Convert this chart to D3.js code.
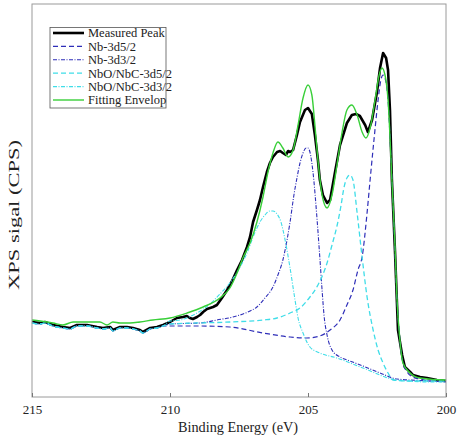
<!DOCTYPE html>
<html>
<head>
<meta charset="utf-8">
<script src="https://cdn.jsdelivr.net/npm/d3@7"></script>
<style>
  html, body { margin: 0; padding: 0; background: #fff; }
  svg text { font-family: "Liberation Serif", "Times New Roman", serif; }
</style>
</head>
<body>
<svg id="chart" width="459" height="438"></svg>
<script>
// ---------- DATA (binding energy in eV, intensity in arbitrary units) ----------
const xTicks = [215, 210, 205, 200];
const seriesNames = ["Measured Peak", "Nb-3d5/2", "Nb-3d3/2", "NbO/NbC-3d5/2", "NbO/NbC-3d3/2", "Fitting Envelop"];

const measuredPeak = [
  [215.00,75],[214.71,74],[214.53,75],[214.24,72],[213.88,70],[213.62,69],[213.37,72],[213.01,72],
  [212.64,70],[212.43,69],[212.17,70],[212.07,67],[211.81,70],[211.56,70],[211.34,69],[211.09,67],
  [210.98,65],[210.72,69],[210.47,70],[210.25,72],[210.00,75],[209.75,79],[209.53,80],[209.39,81],
  [209.28,79],[209.17,78],[209.02,80],[208.91,82],[208.80,85],[208.66,88],[208.55,89],[208.44,90],
  [208.30,92],[208.12,99],[207.93,107],[207.75,116],[207.57,127],[207.39,137],[207.21,150],[207.10,160],
  [206.99,175],[206.85,187],[206.74,197],[206.63,210],[206.49,225],[206.38,234],[206.27,240],[206.12,245],
  [206.01,246],[205.91,244],[205.80,242],[205.72,246],[205.65,245],[205.54,247],[205.40,262],[205.29,275],
  [205.11,287],[205.00,289],[204.86,283],[204.75,262],[204.64,237],[204.57,217],[204.46,202],[204.31,194],
  [204.20,197],[204.02,225],[203.84,252],[203.59,274],[203.41,282],[203.26,283],[203.12,281],[202.93,272],
  [202.83,265],[202.68,277],[202.50,305],[202.39,329],[202.28,344],[202.17,339],[202.10,327],[202.03,287],
  [201.96,217],[201.85,147],[201.74,67],[201.59,42],[201.49,30],[201.30,25],[201.20,22],[200.94,20],
  [200.69,19],[200.33,17],[200.00,16]
];

const fittingEnvelop = [
  [215.00,77],[214.71,76],[214.24,74],[213.88,72],[213.51,75],[213.01,75],[212.54,75],[212.28,72],
  [212.07,75],[211.81,74],[211.45,74],[211.09,75],[210.62,77],[210.00,79],[209.38,84],[208.80,90],
  [208.19,99],[207.83,109],[207.57,124],[207.36,139],[207.10,154],[206.85,175],[206.63,200],[206.45,225],
  [206.27,244],[206.09,255],[205.91,249],[205.72,240],[205.54,247],[205.36,272],[205.18,299],[205.00,312],
  [204.86,302],[204.75,272],[204.64,237],[204.49,202],[204.31,189],[204.13,202],[203.95,232],[203.77,264],
  [203.59,287],[203.41,292],[203.22,282],[203.04,265],[202.90,259],[202.75,269],[202.57,297],[202.43,321],
  [202.32,329],[202.21,322],[202.10,297],[201.96,217],[201.85,152],[201.78,100],[201.67,57],[201.56,34],
  [201.30,24],[200.94,19],[200.04,17],[200.00,17]
];

// noisy background shared by the fitted components at the high-energy end
const componentBaseline = [
  [215.00,74],[214.71,73],[214.53,74],[214.24,71],[213.88,69],[213.62,68],[213.37,71],[213.01,71],
  [212.64,69],[212.43,68],[212.17,69],[212.07,66],[211.81,69],[211.56,69],[211.34,68],[211.09,66],
  [210.98,64],[210.72,68],[210.47,69],[210.25,71]
];

const nb3d52 = [
  [210.00,71],[208.91,71],[207.83,70],[206.63,64],[205.65,60],[205.04,59],[204.57,61],[204.20,67],
  [203.84,77],[203.59,92],[203.37,107],[203.19,127],[203.04,140],[202.86,184],[202.75,217],[202.61,257],
  [202.46,297],[202.36,317],[202.28,322],[202.21,319],[202.10,297],[201.99,237],[201.88,167],[201.78,100],
  [201.67,57],[201.56,34],[201.41,25],[201.20,20],[200.94,18],[200.58,16],[200.00,16]
];

const nb3d32 = [
  [210.00,73],[208.91,74],[208.30,77],[207.72,80],[207.10,86],[206.85,90],[206.56,99],[206.27,110],
  [206.09,122],[205.91,137],[205.76,157],[205.65,175],[205.51,202],[205.40,219],[205.29,234],[205.18,244],
  [205.07,249],[205.00,249],[204.93,245],[204.82,225],[204.67,177],[204.57,139],[204.49,107],[204.42,82],
  [204.31,62],[204.13,47],[203.84,40],[203.48,36],[203.01,31],[202.39,24],[201.78,18],[200.58,16],[200.00,15]
];

const nbo3d52 = [
  [210.00,73],[207.83,75],[206.63,77],[206.12,79],[205.65,84],[205.29,89],[204.93,100],[204.64,112],
  [204.31,134],[204.13,152],[203.95,171],[203.80,192],[203.70,209],[203.59,219],[203.48,222],[203.37,217],
  [203.22,184],[203.04,140],[202.86,100],[202.64,67],[202.46,47],[202.28,34],[202.10,24],[201.92,17],
  [201.30,16],[200.00,16]
];

const nbo3d32 = [
  [210.00,76],[209.64,77],[209.02,84],[208.55,93],[208.19,103],[207.83,114],[207.46,130],[207.21,144],
  [206.99,160],[206.74,175],[206.56,182],[206.38,186],[206.27,186],[206.12,183],[205.98,175],[205.83,157],
  [205.65,129],[205.47,97],[205.36,79],[205.18,64],[204.93,50],[204.57,44],[203.95,39],[203.01,29],
  [201.78,17],[200.58,15],[200.00,15]
];

// ---------- DRAWING ----------
const svg = d3.select("#chart");
const mLeft = 32, mRight = 446, mTop = 4, mBottom = 397;

const x = d3.scaleLinear().domain([215, 200]).range([mLeft, mRight]);
const y = d3.scaleLinear().domain([0, 393]).range([mBottom, mTop]);

const navy = "#2e2eb8", cyan = "#3fdde8", green = "#38cf38";

const series = [
  { name: seriesNames[0], data: measuredPeak, color: "#000", width: 2.6, dash: null, curve: d3.curveLinear },
  { name: seriesNames[1], data: componentBaseline.concat(nb3d52), color: navy, width: 1.2, dash: "5,3", curve: d3.curveMonotoneX },
  { name: seriesNames[2], data: componentBaseline.concat(nb3d32), color: navy, width: 1.1, dash: "4,1.5,1,1.5", curve: d3.curveMonotoneX },
  { name: seriesNames[3], data: componentBaseline.concat(nbo3d52), color: cyan, width: 1.3, dash: "5,3", curve: d3.curveMonotoneX },
  { name: seriesNames[4], data: componentBaseline.concat(nbo3d32), color: cyan, width: 1.1, dash: "4,1.5,1,1.5", curve: d3.curveMonotoneX },
  { name: seriesNames[5], data: fittingEnvelop, color: green, width: 1.4, dash: null, curve: d3.curveMonotoneX }
];

const plot = svg.append("g");
series.forEach(s => {
  const line = d3.line().x(d => x(d[0])).y(d => y(d[1])).curve(s.curve);
  plot.append("path")
    .datum(s.data)
    .attr("d", line)
    .attr("fill", "none")
    .attr("stroke", s.color)
    .attr("stroke-width", s.width)
    .attr("stroke-linejoin", "round")
    .attr("stroke-dasharray", s.dash);
});

// frame
svg.append("rect")
  .attr("x", mLeft).attr("y", mTop)
  .attr("width", mRight - mLeft).attr("height", mBottom - mTop)
  .attr("fill", "none").attr("stroke", "#9a9a9a").attr("stroke-width", 1);

// x axis
const xAxis = d3.axisBottom(x).tickValues(xTicks).tickFormat(d3.format("d"))
  .tickSizeInner(-4).tickSizeOuter(0).tickPadding(8);
const gx = svg.append("g").attr("transform", `translate(0,${mBottom})`).call(xAxis);
gx.select(".domain").remove();
gx.selectAll(".tick line").attr("stroke", "#777");
gx.selectAll(".tick text")
  .attr("font-family", "Liberation Serif, serif")
  .attr("font-size", 13).attr("fill", "#222");

// axis titles
svg.append("text")
  .attr("x", 238).attr("y", 432)
  .attr("text-anchor", "middle").attr("font-size", 15).attr("fill", "#222")
  .attr("textLength", 120).attr("lengthAdjust", "spacingAndGlyphs")
  .text("Binding Energy (eV)");
svg.append("text")
  .attr("transform", "translate(19,215) rotate(-90)")
  .attr("text-anchor", "middle").attr("font-size", 15).attr("fill", "#222")
  .attr("textLength", 150).attr("lengthAdjust", "spacingAndGlyphs")
  .text("XPS sigal (CPS)");

// legend
const lg = svg.append("g");
lg.append("rect").attr("x", 50).attr("y", 27.5).attr("width", 116).attr("height", 80.5)
  .attr("fill", "#fff").attr("stroke", "#555").attr("stroke-width", 0.8);
series.forEach((s, i) => {
  const cy = 33 + i * 13.4;
  lg.append("line").attr("x1", 53).attr("x2", 84).attr("y1", cy).attr("y2", cy)
    .attr("stroke", s.color).attr("stroke-width", s.width).attr("stroke-dasharray", s.dash);
  lg.append("text").attr("x", 88).attr("y", cy).attr("dy", "0.35em")
    .attr("font-size", 12.5).attr("fill", "#222").text(s.name);
});
</script>
</body>
</html>
